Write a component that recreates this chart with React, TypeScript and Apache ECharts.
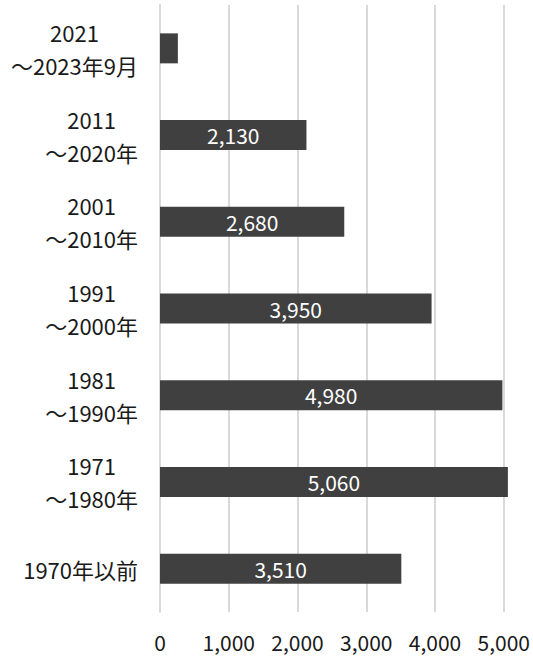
import React, { useEffect, useRef } from "react";
import * as echarts from "echarts";

const categories = [
  "2021\n～2023年9月",
  "2011\n～2020年",
  "2001\n～2010年",
  "1991\n～2000年",
  "1981\n～1990年",
  "1971\n～1980年",
  "1970年以前",
];
const values = [260, 2130, 2680, 3950, 4980, 5060, 3510];
const xTicks = { min: 0, max: 5000, interval: 1000 };

const FONT = "'Noto Sans CJK JP', 'Noto Sans', sans-serif";

export default function App() {
  const ref = useRef<HTMLDivElement>(null);
  useEffect(() => {
    if (!ref.current) return;
    const chart = echarts.init(ref.current, null, { renderer: "svg" });
    chart.setOption({
      animation: false,
      grid: { left: 160, right: 27, top: 5, bottom: 46, containLabel: false },
      xAxis: {
        type: "value",
        min: xTicks.min,
        max: xTicks.max,
        interval: xTicks.interval,
        axisLine: { show: false },
        axisTick: { show: false },
        splitLine: { lineStyle: { color: "#d9d9d9", width: 2 } },
        axisLabel: {
          margin: 19,
          fontSize: 21,
          fontFamily: FONT,
          color: "#1a1a1a",
          formatter: (v: number) => v.toLocaleString("en-US"),
        },
      },
      yAxis: {
        type: "category",
        data: categories,
        inverse: true,
        axisLine: { show: true, lineStyle: { color: "#d9d9d9", width: 2 } },
        axisTick: { show: false },
        axisLabel: {
          margin: 22,
          fontSize: 22,
          fontFamily: FONT,
          color: "#1a1a1a",
          lineHeight: 33,
          formatter: (v: string) =>
            v
              .split("\n")
              .map((s) => `{a|${s}}`)
              .join("\n"),
          rich: {
            a: {
              align: "center",
              fontSize: 22,
              fontFamily: FONT,
              color: "#1a1a1a",
              lineHeight: 33,
            },
          },
        },
      },
      series: [
        {
          type: "bar",
          data: values.map((v, i) =>
            i === 0 ? { value: v, label: { show: false } } : v
          ),
          barWidth: 30,
          clip: false,
          itemStyle: { color: "#404040" },
          label: {
            show: true,
            position: "inside",
            color: "#ffffff",
            fontSize: 21,
            fontFamily: FONT,
            formatter: (p: any) => Number(p.value).toLocaleString("en-US"),
          },
        },
      ],
    });
    return () => chart.dispose();
  }, []);
  return (
    <div
      ref={ref}
      style={{ position: "absolute", left: 0, top: 0, width: 533, height: 658 }}
    />
  );
}
